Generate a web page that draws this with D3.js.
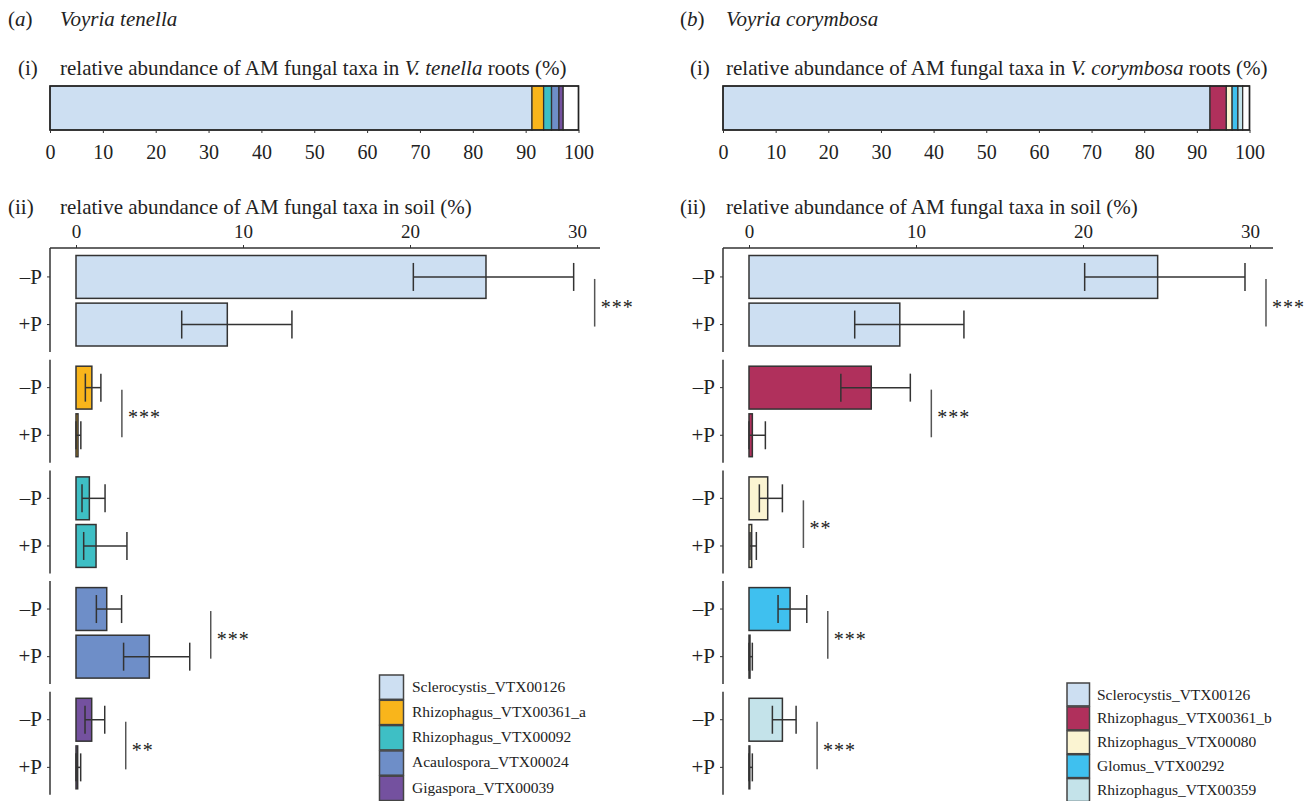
<!DOCTYPE html>
<html><head><meta charset="utf-8">
<script src="https://cdn.jsdelivr.net/npm/d3@7"></script>
<style>
body{margin:0;background:#fff}
svg{display:block}
text{font-family:"Liberation Serif","Times New Roman",serif;fill:#222}
</style>
</head><body>
<svg id="chart" width="1316" height="801"></svg>
<script>
// ---------- DATA ----------
const treatments = ["–P", "+P"];
const rootTicks = [0,10,20,30,40,50,60,70,80,90,100];
const soilTicks = [0,10,20,30];

// Panel (a) Voyria tenella
const taxaA = ["Sclerocystis_VTX00126","Rhizophagus_VTX00361_a","Rhizophagus_VTX00092","Acaulospora_VTX00024","Gigaspora_VTX00039"];
const coloursA = ["#cddff2","#f9b51b","#3ebfc5","#6e8ec8","#74519f"];
const rootA = [91.2, 2.2, 1.5, 1.4, 0.8];
const minusMeanA = [24.55, 0.95, 0.80, 1.84, 0.94];
const minusLoA   = [20.2, 0.56, 0.36, 1.22, 0.54];
const minusHiA   = [29.8, 1.49, 1.74, 2.73, 1.72];
const plusMeanA  = [9.06, 0.12, 1.20, 4.39, 0.10];
const plusLoA    = [6.33, 0.00, 0.46, 2.85, 0.00];
const plusHiA    = [12.93, 0.29, 3.05, 6.81, 0.28];
const sigA = ["***","***","","***","**"];

// Panel (b) Voyria corymbosa
const taxaB = ["Sclerocystis_VTX00126","Rhizophagus_VTX00361_b","Rhizophagus_VTX00080","Glomus_VTX00292","Rhizophagus_VTX00359"];
const coloursB = ["#cddff2","#b0305c","#fbf4d2","#3fc0ef","#c4e3ea"];
const rootB = [92.5, 3.1, 1.1, 1.1, 0.9];
const minusMeanB = [24.47, 7.32, 1.12, 2.46, 2.00];
const minusLoB   = [20.1, 5.5, 0.62, 1.74, 1.40];
const minusHiB   = [29.7, 9.66, 2.00, 3.46, 2.82];
const plusMeanB  = [9.03, 0.20, 0.16, 0.06, 0.04];
const plusLoB    = [6.33, 0.00, 0.06, 0.00, 0.00];
const plusHiB    = [12.87, 0.98, 0.44, 0.20, 0.20];
const sigB = ["***","***","**","***","***"];

// ---------- DRAW ----------
const svg = d3.select("#chart");
const STROKE = "#333";

function drawPanel(p){
  const g = svg.append("g");
  // Titles
  const t = g.append("text").attr("x", p.lx).attr("y", 26).style("font-size","21px");
  t.append("tspan").text("(");
  t.append("tspan").style("font-style","italic").text(p.letter);
  t.append("tspan").text(")");
  g.append("text").attr("x", p.tx).attr("y", 26).style("font-size","21px").style("font-style","italic").text(p.species);

  g.append("text").attr("x", p.lx+10).attr("y", 75).style("font-size","21px").text("(i)");
  const s1b = g.append("text").attr("x", p.tx).attr("y", 75).style("font-size","21px");
  s1b.append("tspan").text("relative abundance of AM fungal taxa in ");
  s1b.append("tspan").style("font-style","italic").text(p.short);
  s1b.append("tspan").text(" roots (%)");

  g.append("text").attr("x", p.lx).attr("y", 214).style("font-size","21px").text("(ii)");
  g.append("text").attr("x", p.tx).attr("y", 214).style("font-size","21px").text("relative abundance of AM fungal taxa in soil (%)");

  // ---- Root stacked bar ----
  const xr = d3.scaleLinear().domain([0,100]).range([p.rootL, p.rootR]);
  const segs = [];
  let acc = 0;
  p.root.forEach((v,i)=>{ segs.push({x0:acc, x1:acc+v, c:p.colours[i]}); acc += v; });
  segs.push({x0:acc, x1:100, c:"#ffffff"});
  const rootTop = 86, rootH = 44;
  g.append("g").selectAll("rect").data(segs).join("rect")
    .attr("x", d=>xr(d.x0)).attr("width", d=>xr(d.x1)-xr(d.x0))
    .attr("y", rootTop).attr("height", rootH)
    .attr("fill", d=>d.c).attr("stroke", STROKE).attr("stroke-width", 1.3);
  g.append("rect").attr("x", xr(0)).attr("y", rootTop).attr("width", xr(100)-xr(0)).attr("height", rootH)
    .attr("fill","none").attr("stroke","#222").attr("stroke-width",1.5);
  const ra = g.append("g").attr("transform", `translate(0,${rootTop+rootH})`)
    .call(d3.axisBottom(xr).tickValues(rootTicks).tickSize(3).tickPadding(12));
  ra.select(".domain").remove();
  ra.selectAll(".tick line").attr("stroke", STROKE);
  ra.selectAll("text").style("font-size","20px").style("font-family","Liberation Serif").attr("fill","#222");

  // ---- Soil bars ----
  const xs = d3.scaleLinear().domain([0,30]).range([p.zero, p.zero + 30*16.7]);
  const axisY = 248;
  const sa = g.append("g").attr("transform", `translate(0,${axisY})`)
    .call(d3.axisTop(xs).tickValues(soilTicks).tickSize(3).tickPadding(7));
  sa.select(".domain").remove();
  sa.selectAll(".tick line").attr("stroke", STROKE);
  sa.selectAll("text").style("font-size","19px").style("font-family","Liberation Serif").attr("fill","#222");
  g.append("line").attr("x1", p.axisX).attr("x2", p.axisX+550).attr("y1", axisY).attr("y2", axisY)
    .attr("stroke", STROKE).attr("stroke-width", 1.5);

  const yG = d3.scaleBand().domain(p.taxa).range([249, 249 + 5*110.7]);
  const yP = d3.scaleBand().domain(treatments).range([6.5, 97]).paddingInner(0.1);
  const bw = yP.bandwidth();
  const capH = 28;

  p.taxa.forEach((taxon, i)=>{
    const y0 = yG(taxon);
    const gg = g.append("g").attr("transform", `translate(0,${y0})`);
    const rows = [
      {t:treatments[0], m:p.mMean[i], lo:p.mLo[i], hi:p.mHi[i]},
      {t:treatments[1], m:p.pMean[i], lo:p.pLo[i], hi:p.pHi[i]}
    ];
    // left axis segment
    const la = gg.append("g").attr("transform", `translate(${p.axisX},0)`)
      .call(d3.axisLeft(yP).tickSize(3).tickPadding(5));
    la.select(".domain").remove();
    la.selectAll(".tick line").attr("stroke", STROKE);
    la.selectAll("text").style("font-size","21px").style("font-family","Liberation Serif").attr("fill","#222");
    gg.append("line").attr("x1", p.axisX).attr("x2", p.axisX)
      .attr("y1", i===0 ? axisY - y0 : 0).attr("y2", 103)
      .attr("stroke", STROKE).attr("stroke-width", 1.5);

    // bars
    gg.selectAll("rect.bar").data(rows).join("rect").attr("class","bar")
      .attr("x", xs(0)).attr("y", d=>yP(d.t))
      .attr("width", d=>Math.max(0.8, xs(d.m)-xs(0))).attr("height", bw)
      .attr("fill", p.colours[i]).attr("stroke", STROKE).attr("stroke-width", 1.5);
    // error bars
    rows.forEach(d=>{
      const cy = yP(d.t) + bw/2;
      gg.append("line").attr("x1", xs(d.lo)).attr("x2", xs(d.hi)).attr("y1", cy).attr("y2", cy)
        .attr("stroke", STROKE).attr("stroke-width", 1.5);
      [d.lo, d.hi].forEach(v=>{
        gg.append("line").attr("x1", xs(v)).attr("x2", xs(v)).attr("y1", cy-capH/2).attr("y2", cy+capH/2)
          .attr("stroke", STROKE).attr("stroke-width", 1.5);
      });
    });
    // significance
    if (p.sig[i]) {
      const sx = xs(Math.max(rows[0].hi, rows[1].hi)) + 21;
      const c1 = yP(treatments[0]) + bw/2 + 2, c2 = yP(treatments[1]) + bw/2 + 2;
      gg.append("line").attr("x1", sx).attr("x2", sx).attr("y1", c1).attr("y2", c2)
        .attr("stroke", "#555").attr("stroke-width", 1.5);
      gg.append("text").attr("x", sx+6).attr("y", (c1+c2)/2 + 11)
        .style("font-size","20px").style("letter-spacing","1px").attr("fill","#555").text(p.sig[i]);
    }
  });

  // legend
  const lg = g.append("g").attr("transform", `translate(${p.legX},${p.legY})`);
  p.taxa.forEach((taxon,i)=>{
    lg.append("rect").attr("x",0).attr("y", i*p.legStep).attr("width",p.legW).attr("height",p.legStep-1)
      .attr("fill", p.colours[i]).attr("stroke", "#444").attr("stroke-width",1.5);
    lg.append("text").attr("x", p.legTx).attr("y", i*p.legStep + 16.5).style("font-size","15.5px").text(taxon);
  });
}

drawPanel({letter:"a", species:"Voyria tenella", short:"V. tenella", lx:8, tx:60,
  rootL:50, rootR:578.5, zero:76, axisX:50,
  taxa:taxaA, colours:coloursA, root:rootA,
  mMean:minusMeanA, mLo:minusLoA, mHi:minusHiA, pMean:plusMeanA, pLo:plusLoA, pHi:plusHiA, sig:sigA,
  legX:379.5, legY:675, legStep:25.3, legW:24, legTx:32.5});

drawPanel({letter:"b", species:"Voyria corymbosa", short:"V. corymbosa", lx:680, tx:726,
  rootL:723, rootR:1249.5, zero:749, axisX:723,
  taxa:taxaB, colours:coloursB, root:rootB,
  mMean:minusMeanB, mLo:minusLoB, mHi:minusHiB, pMean:plusMeanB, pLo:plusLoB, pHi:plusHiB, sig:sigB,
  legX:1067, legY:683, legStep:23.9, legW:22.5, legTx:30});
</script>
</body></html>
